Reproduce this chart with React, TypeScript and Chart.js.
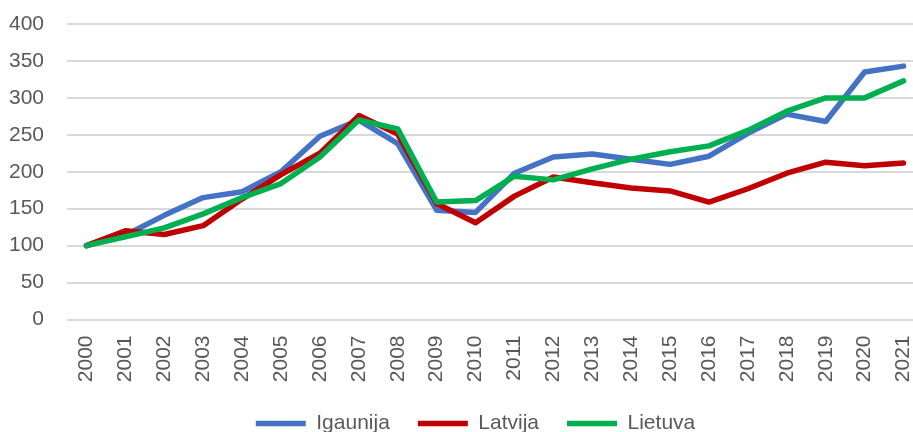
import React, { useEffect, useRef } from "react";
import { Chart, registerables } from "chart.js";

Chart.register(...registerables);

const years = ["2000","2001","2002","2003","2004","2005","2006","2007","2008","2009","2010","2011","2012","2013","2014","2015","2016","2017","2018","2019","2020","2021"];
const igaunija = [100,114,141,165,173,200,248,270,238,148,145,198,220,224,217,210,221,252,278,268,335,343];
const latvija = [100,120,115,127,163,196,225,276,251,157,131,167,193,185,178,174,159,177,198,213,208,212];
const lietuva = [100,112,124,143,165,184,220,270,258,159,161,194,189,204,217,227,235,256,282,300,300,323];
const yTicks = [0,50,100,150,200,250,300,350,400];

const FONT = "'Liberation Sans', Arial, sans-serif";

export default function App() {
  const ref = useRef<HTMLCanvasElement | null>(null);
  useEffect(() => {
    if (!ref.current) return;
    const chart = new Chart(ref.current, {
      type: "line",
      data: {
        labels: years,
        datasets: [
          { label: "Igaunija", data: igaunija, borderColor: "#4472C4", backgroundColor: "#4472C4", order: 2 },
          { label: "Latvija", data: latvija, borderColor: "#C00000", backgroundColor: "#C00000", order: 1 },
          { label: "Lietuva", data: lietuva, borderColor: "#00B050", backgroundColor: "#00B050", order: 0 },
        ].map((d) => ({
          ...d,
          borderWidth: 5.5,
          pointRadius: 0,
          tension: 0,
          fill: false,
          borderCapStyle: "round" as const,
          borderJoinStyle: "round" as const,
        })),
      },
      options: {
        animation: false,
        responsive: false,
        devicePixelRatio: 1,
        layout: { padding: { top: 24, right: 0, left: 0, bottom: 0 } },
        plugins: {
          tooltip: { enabled: false },
          legend: {
            position: "bottom",
            reverse: true,
            labels: {
              usePointStyle: true,
              pointStyle: "line",
              pointStyleWidth: 50,
              boxHeight: 21,
              padding: 28,
              color: "#595959",
              font: { family: FONT, size: 21 },
            },
          },
        },
        scales: {
          x: {
            offset: true,
            grid: { display: false, drawTicks: false },
            border: { display: false },
            ticks: {
              color: "#595959",
              font: { family: FONT, size: 21 },
              minRotation: 90,
              maxRotation: 90,
              padding: 16,
              autoSkip: false,
            },
            afterFit: (s: any) => {
              s.height = 65.5;
              s.paddingLeft = 0;
              s.paddingRight = 0;
            },
          },
          y: {
            min: 0,
            max: 400,
            afterBuildTicks: (s: any) => {
              s.ticks = yTicks.map((v) => ({ value: v }));
            },
            grid: { color: "#d9d9d9", lineWidth: 2, drawTicks: false },
            border: { display: false },
            ticks: {
              color: "#595959",
              font: { family: FONT, size: 21 },
              padding: 23,
            },
            afterFit: (s: any) => {
              s.width = 67;
              s.paddingTop = 0;
              s.paddingBottom = 0;
            },
          },
          spacer: {
            type: "linear",
            position: "right",
            display: true,
            grid: { display: false, drawTicks: false },
            border: { display: false },
            ticks: { display: false },
            afterFit: (s: any) => {
              s.width = 28;
              s.paddingTop = 0;
              s.paddingBottom = 0;
            },
          },
        },
      },
    });
    return () => chart.destroy();
  }, []);
  return (
    <div style={{ position: "fixed", left: 0, top: 0, width: 913, height: 432, overflow: "hidden", background: "#fff" }}>
      <canvas ref={ref} width={951} height={444} style={{ width: 951, height: 444, display: "block" }} />
    </div>
  );
}
